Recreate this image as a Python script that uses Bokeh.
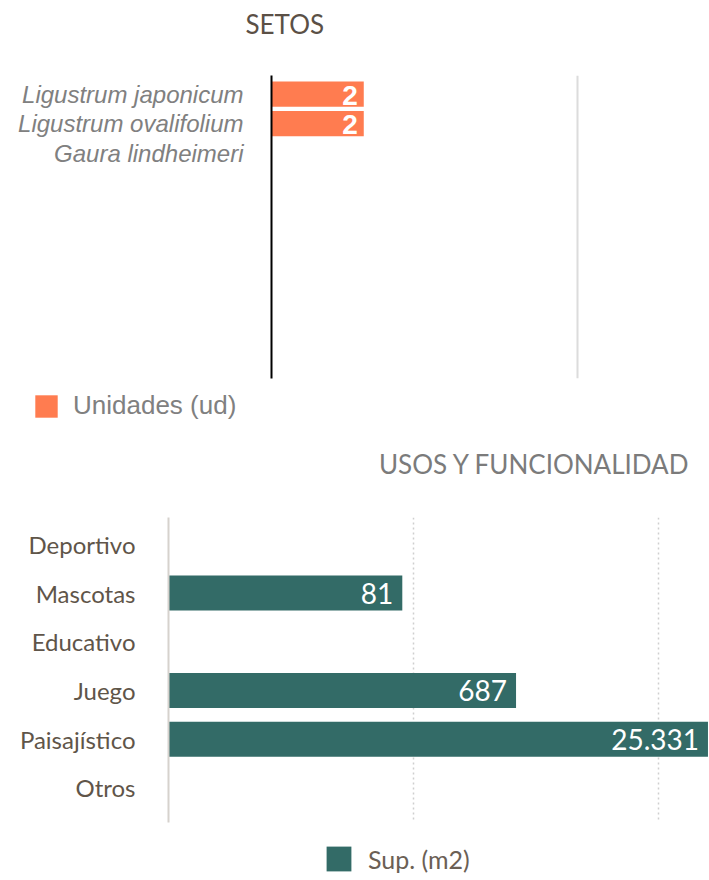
from bokeh.plotting import figure
from bokeh.models import (Range1d, FixedTicker, Legend, LegendItem, Title,
                          ColumnDataSource)
from bokeh.layouts import column
from bokeh.embed import file_html
from bokeh.resources import INLINE
from bokeh.core.properties import value

# ---------------- data ----------------
setos_species = ["Ligustrum japonicum", "Ligustrum ovalifolium", "Gaura lindheimeri"]
setos_units = [2, 2, None]
setos_labels = ["2", "2", ""]

usos_categories = ["Deportivo", "Mascotas", "Educativo", "Juego", "Paisajístico", "Otros"]
usos_area = [None, 81, None, 687, 25331, None]
usos_labels = ["", "81", "", "687", "25.331", ""]

ORANGE = "#FF7C50"
TEAL = "#336B67"
W = 709


def bar_source(values, labels):
    ys, rs, ls = [], [], []
    for i, (v, l) in enumerate(zip(values, labels)):
        if v is not None:
            ys.append(i)
            rs.append(v)
            ls.append(l)
    return ColumnDataSource(dict(y=ys, right=rs, label=ls))


def bare_fig(height):
    f = figure(width=W, height=height, output_backend="svg",
               toolbar_location=None, x_axis_location=None,
               y_axis_location=None, min_border=0)
    f.frame_align = False
    f.outline_line_color = None
    f.grid.visible = False
    return f


def title_fig(text, align, offset, color):
    t = bare_fig(50)
    t.add_layout(Title(text=text, align=align, offset=offset, standoff=11,
                       vertical_align="bottom", text_font="Lato",
                       text_font_size="26px", text_font_style="normal",
                       text_color=color), "above")
    return t


def legend_fig(height, src, label, color, loc, glyph, font, size, tcolor, standoff):
    f = bare_fig(height)
    r = f.hbar(y="y", left=1, right="right", height=0.8, source=src,
               fill_color=color, line_color=None, visible=False)
    leg = Legend(items=[LegendItem(label=label, renderers=[r])],
                 location=loc, orientation="horizontal",
                 glyph_width=glyph, glyph_height=glyph, label_height=glyph,
                 label_standoff=standoff, padding=0, margin=0,
                 border_line_color=None, background_fill_alpha=0,
                 inactive_fill_alpha=0,
                 label_text_font=font, label_text_font_size=size,
                 label_text_color=tcolor)
    f.add_layout(leg)
    return f


# ---------------- top chart: SETOS ----------------
src1 = bar_source(setos_units, setos_labels)
t1 = title_fig("SETOS", "left", 245, "#5b5046")

p1 = figure(width=W, height=330, x_axis_type="log", x_axis_location=None,
            x_range=Range1d(1, 26.86), y_range=Range1d(9.64, -0.63),
            output_backend="svg", toolbar_location=None,
            min_border_left=271, min_border_right=0,
            min_border_top=25, min_border_bottom=2)
p1.frame_align = False
p1.outline_line_color = None

p1.xgrid.ticker = FixedTicker(ticks=[10])
p1.xgrid.grid_line_color = "#dcdcdc"
p1.xgrid.grid_line_width = 2
p1.ygrid.visible = False

p1.yaxis.ticker = FixedTicker(ticks=list(range(len(setos_species))))
p1.yaxis.major_label_overrides = {i: s for i, s in enumerate(setos_species)}
p1.yaxis.major_tick_line_color = None
p1.yaxis.minor_tick_line_color = None
p1.yaxis.axis_line_color = "black"
p1.yaxis.axis_line_width = 2
p1.yaxis.major_label_standoff = 22
p1.yaxis.major_label_text_font = "Liberation Sans"
p1.yaxis.major_label_text_font_size = "24px"
p1.yaxis.major_label_text_font_style = "italic"
p1.yaxis.major_label_text_color = "#808080"

p1.hbar(y="y", left=1, right="right", height=0.85, source=src1,
        fill_color=ORANGE, line_color=None)
p1.text(x="right", y="y", text="label", source=src1, x_offset=-6, y_offset=1,
        text_align="right", text_baseline="middle", text_color="white",
        text_font=value("Liberation Sans"), text_font_style="bold",
        text_font_size="28px")

l1 = legend_fig(60, src1, "Unidades (ud)", ORANGE, (32, 19), 28,
                "Liberation Sans", "26px", "#808080", 13)

# ---------------- bottom chart: USOS Y FUNCIONALIDAD ----------------
src2 = bar_source(usos_area, usos_labels)
t2 = title_fig("USOS Y FUNCIONALIDAD", "right", 19, "#7b7b7b")

p2 = figure(width=W, height=342, x_axis_type="log", x_axis_location=None,
            x_range=Range1d(1, 26070), y_range=Range1d(5.71, -0.55),
            output_backend="svg", toolbar_location=None,
            min_border_left=168, min_border_right=0,
            min_border_top=27, min_border_bottom=10)
p2.frame_align = False
p2.outline_line_color = None

p2.xgrid.ticker = FixedTicker(ticks=[100, 10000])
p2.xgrid.grid_line_color = "#cfcfcf"
p2.xgrid.grid_line_width = 1.5
p2.xgrid.grid_line_dash = "2 3"
p2.ygrid.visible = False

p2.yaxis.ticker = FixedTicker(ticks=list(range(len(usos_categories))))
p2.yaxis.major_label_overrides = {i: s for i, s in enumerate(usos_categories)}
p2.yaxis.major_tick_line_color = None
p2.yaxis.minor_tick_line_color = None
p2.yaxis.axis_line_color = "#d6d2cd"
p2.yaxis.axis_line_width = 2
p2.yaxis.major_label_standoff = 27
p2.yaxis.major_label_text_font = "Lato"
p2.yaxis.major_label_text_font_size = "24px"
p2.yaxis.major_label_text_color = "#5f5549"

p2.hbar(y="y", left=1, right="right", height=0.72, source=src2,
        fill_color=TEAL, line_color=None)
p2.text(x="right", y="y", text="label", source=src2, x_offset=-9,
        text_align="right", text_baseline="middle", text_color="white",
        text_font=value("Lato"), text_font_size="28px")

l2 = legend_fig(48, src2, "Sup. (m2)", TEAL, (323, 6), 31,
                "Lato", "25px", "#6b6055", 14)

layout = column(t1, p1, l1, t2, p2, l2, spacing=0)
open("out.html", "w").write(file_html(layout, INLINE))
